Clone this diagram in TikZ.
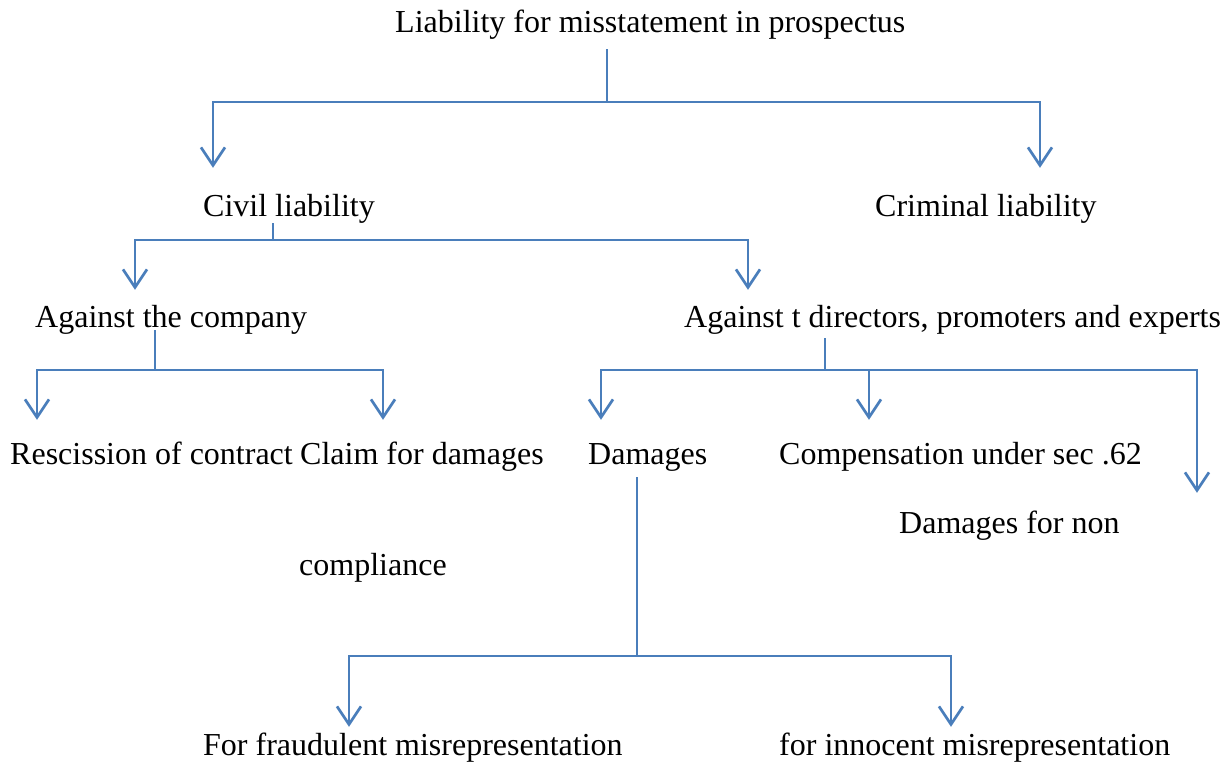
\documentclass[tikz,border=0pt]{standalone}
\usepackage{fontspec}
\setmainfont{Liberation Serif}
\usetikzlibrary{arrows.meta}
\definecolor{linkblue}{HTML}{4A7EBB}
\begin{document}
\begin{tikzpicture}[x=1pt,y=-1pt,
  lbl/.style={anchor=west,inner sep=0pt,text height=22pt,text depth=7pt,font=\fontsize{32}{38}\selectfont},
  conn/.style={draw=linkblue,line width=2.7pt},
  arr/.style={conn,-{Straight Barb[length=18pt,width=24pt,line width=2.7pt]}}]
\useasboundingbox (0,0) rectangle (1225,762);
% nodes
\node[lbl] (title) at (395,25.5) {Liability for misstatement in prospectus};
\node[lbl] (civil) at (203,208.5) {Civil liability};
\node[lbl] (criminal) at (875,208.5) {Criminal liability};
\node[lbl] (company) at (35,319.5) {Against the company};
\node[lbl] (directors) at (684,319.5) {Against t directors, promoters and experts};
\node[lbl] (rescission) at (10,456.5) {Rescission of contract};
\node[lbl] (claim) at (300,456.5) {Claim for damages};
\node[lbl] (damages) at (588,456.5) {Damages};
\node[lbl] (comp) at (779,456.5) {Compensation under sec .62};
\node[lbl] (dnon) at (899,525.5) {Damages for non};
\node[lbl] (compliance) at (299,567.5) {compliance};
\node[lbl] (fraud) at (203,747.5) {For fraudulent misrepresentation};
\node[lbl] (innocent) at (779,747.5) {for innocent misrepresentation};
% junctions
\coordinate (j1) at (607,102);
\coordinate (j2) at (273,240);
\coordinate (j3) at (155,370);
\coordinate (j4) at (825,370);
\coordinate (j5) at (637,656);
% level 1
\draw[conn,shorten <=9pt] (title.south -| j1) -- (j1);
\draw[arr,shorten >=26pt] (j1) -| (civil.north -| 213,0);
\draw[arr,shorten >=26pt] (j1) -| (criminal.north -| 1040,0);
% level 2
\draw[conn] (civil.south -| j2) -- (j2);
\draw[arr,shorten >=15pt] (j2) -| (company.north -| 135,0);
\draw[arr,shorten >=15pt] (j2) -| (directors.north -| 748,0);
% level 3 left
\draw[conn,shorten <=-4pt] (company.south -| j3) -- (j3);
\draw[arr,shorten >=22pt] (j3) -| (rescission.north -| 37,0);
\draw[arr,shorten >=22pt] (j3) -| (claim.north -| 383,0);
% level 3 right
\draw[conn,shorten <=4pt] (directors.south -| j4) -- (j4);
\draw[arr,shorten >=22pt] (j4) -| (damages.north -| 601,0);
\draw[arr,shorten >=22pt] (j4) -| (comp.north -| 869,0);
\draw[arr,shorten >=18pt] (j4) -| (dnon.north -| 1197,0);
% level 4
\draw[conn,shorten <=6pt] (damages.south -| j5) -- (j5);
\draw[arr,shorten >=6pt] (j5) -| (fraud.north -| 349,0);
\draw[arr,shorten >=6pt] (j5) -| (innocent.north -| 951,0);
\end{tikzpicture}
\end{document}
